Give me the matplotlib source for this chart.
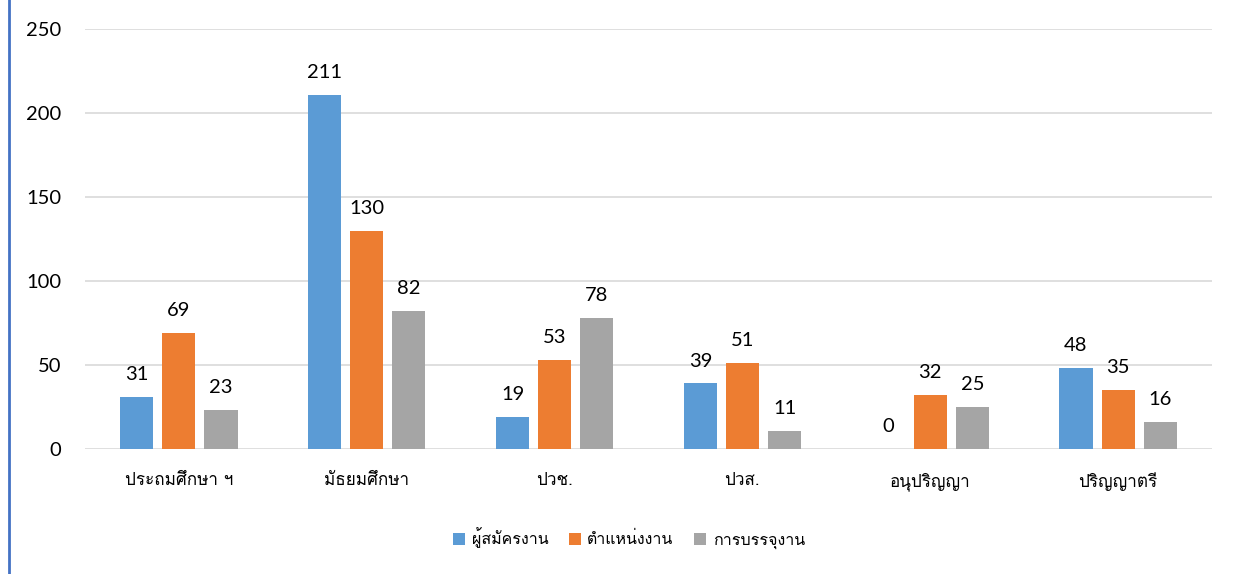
import matplotlib
matplotlib.use("Agg")
import matplotlib.pyplot as plt
from matplotlib.lines import Line2D
import numpy as np

categories = ["ประถมศึกษา ฯ", "มัธยมศึกษา", "ปวช.", "ปวส.", "อนุปริญญา", "ปริญญาตรี"]
series_names = ["ผู้สมัครงาน", "ตำแหน่งงาน", "การบรรจุงาน"]
applicants = [31, 211, 19, 39, 0, 48]
positions = [69, 130, 53, 51, 32, 35]
placements = [23, 82, 78, 11, 25, 16]
colors = ["#5B9BD5", "#ED7D31", "#A5A5A5"]
yticks = [0, 50, 100, 150, 200, 250]

thai_font = ["Loma", "DejaVu Sans"]
num_font = ["Lato", "DejaVu Sans"]

fig = plt.figure(figsize=(12.35, 5.74), dpi=100)
ax = fig.add_axes([85 / 1235, 1 - 449 / 574, (1212 - 85) / 1235, (449 - 29) / 574])

x = np.arange(len(categories))
width = 0.176
step = 0.224
for i, (vals, name, col) in enumerate(zip([applicants, positions, placements], series_names, colors)):
    pos = x + (i - 1) * step
    bars = ax.bar(pos, vals, width=width, color=col, label=name, zorder=3)
    for b, v in zip(bars, vals):
        ax.annotate(str(v), (b.get_x() + b.get_width() / 2, v), xytext=(0, 10),
                    textcoords="offset points", ha="center", va="bottom",
                    fontsize=14.5, family=num_font, color="#000000")

ax.set_xlim(-0.5, len(categories) - 0.5)
ax.set_ylim(0, 250)
ax.set_yticks(yticks)
ax.set_yticklabels([str(t) for t in yticks], fontsize=14.5, family=num_font)
ax.yaxis.grid(True, color="#D9D9D9", linewidth=1.2, zorder=0)
ax.tick_params(axis="y", length=0, pad=17)
ax.tick_params(axis="x", length=0, pad=17)
ax.set_xticks(x)
ax.set_xticklabels(categories, fontsize=12.3, family=thai_font, color="#000000")
for s in ax.spines.values():
    s.set_visible(False)

handles, labels = ax.get_legend_handles_labels()
leg = fig.legend(handles, labels, loc="center", bbox_to_anchor=(629 / 1235, 1 - 538 / 574),
                 ncol=3, frameon=False, prop={"family": thai_font, "size": 11.5},
                 handlelength=0.75, handleheight=0.75, handletextpad=0.4, columnspacing=1.3)

fig.add_artist(Line2D([9 / 1235, 9 / 1235], [0, 1], color="#4472C4", linewidth=2,
                      transform=fig.transFigure))

fig.savefig("out.png")
